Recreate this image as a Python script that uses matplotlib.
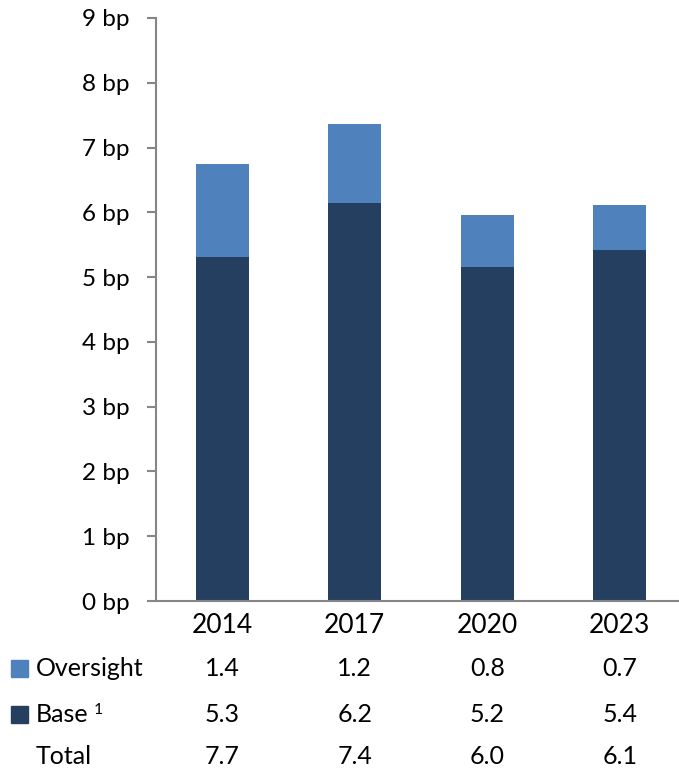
import matplotlib
matplotlib.use("Agg")
import matplotlib.pyplot as plt
from matplotlib.patches import Rectangle

plt.rcParams['font.family'] = ['Lato', 'DejaVu Sans']

years = ["2014", "2017", "2020", "2023"]
base = [5.31, 6.15, 5.16, 5.42]
oversight = [1.43, 1.21, 0.80, 0.69]
row_labels = ["Oversight", "Base", "Total"]
table_oversight = ["1.4", "1.2", "0.8", "0.7"]
table_base = ["5.3", "6.2", "5.2", "5.4"]
table_total = ["7.7", "7.4", "6.0", "6.1"]
y_ticks = [0, 1, 2, 3, 4, 5, 6, 7, 8, 9]

c_over = "#4F81BD"
c_base = "#243F60"
axis_c = "#868686"

W, H = 679, 772
fig = plt.figure(figsize=(W / 100, H / 100), dpi=100)
left, right, top, bottom = 156, 686, 18, 601
ax = fig.add_axes([left / W, 1 - bottom / H, (right - left) / W, (bottom - top) / H])

x = list(range(len(years)))
ax.bar(x, base, width=0.4, color=c_base, edgecolor="none")
ax.bar(x, oversight, width=0.4, bottom=base, color=c_over, edgecolor="none")

ax.set_xlim(-0.5, 3.5)
ax.set_ylim(0, 9)
ax.set_yticks(y_ticks)
ax.set_yticklabels([f"{v} bp" for v in y_ticks])
ax.set_xticks(x)
ax.set_xticklabels(years)
for s in ["top", "right"]:
    ax.spines[s].set_visible(False)
for s in ["left", "bottom"]:
    ax.spines[s].set_color(axis_c)
    ax.spines[s].set_linewidth(1.5)
ax.tick_params(axis="y", length=6.5, width=1.5, color=axis_c, pad=12.5, labelsize=17.5, labelcolor="black")
ax.tick_params(axis="x", length=0, pad=8.5, labelsize=19, labelcolor="black")

# table below
rows_y = [668, 714, 757]
rows_vals = [table_oversight, table_base, table_total]
swatches = [c_over, c_base, None]
fig.canvas.draw()
renderer = fig.canvas.get_renderer()
for ry, lab, vals, sw in zip(rows_y, row_labels, rows_vals, swatches):
    yf = 1 - ry / H
    if sw is not None:
        fig.patches.append(Rectangle((11 / W, 1 - (ry + 9) / H), 17 / W, 17 / H,
                                     transform=fig.transFigure, color=sw, figure=fig))
    t = fig.text(36 / W, yf, lab, ha="left", va="center", fontsize=18)
    if lab == "Base":
        bb = t.get_window_extent(renderer)
        fig.text((bb.x1 + 5) / W, 1 - 703 / H, "1", ha="left", va="top", fontsize=11.5)
    for xi, v in zip(x, vals):
        xd = ax.transData.transform((xi, 0))[0]
        fig.text(xd / W, yf, v, ha="center", va="center", fontsize=18)

fig.savefig("out.png", dpi=100)
